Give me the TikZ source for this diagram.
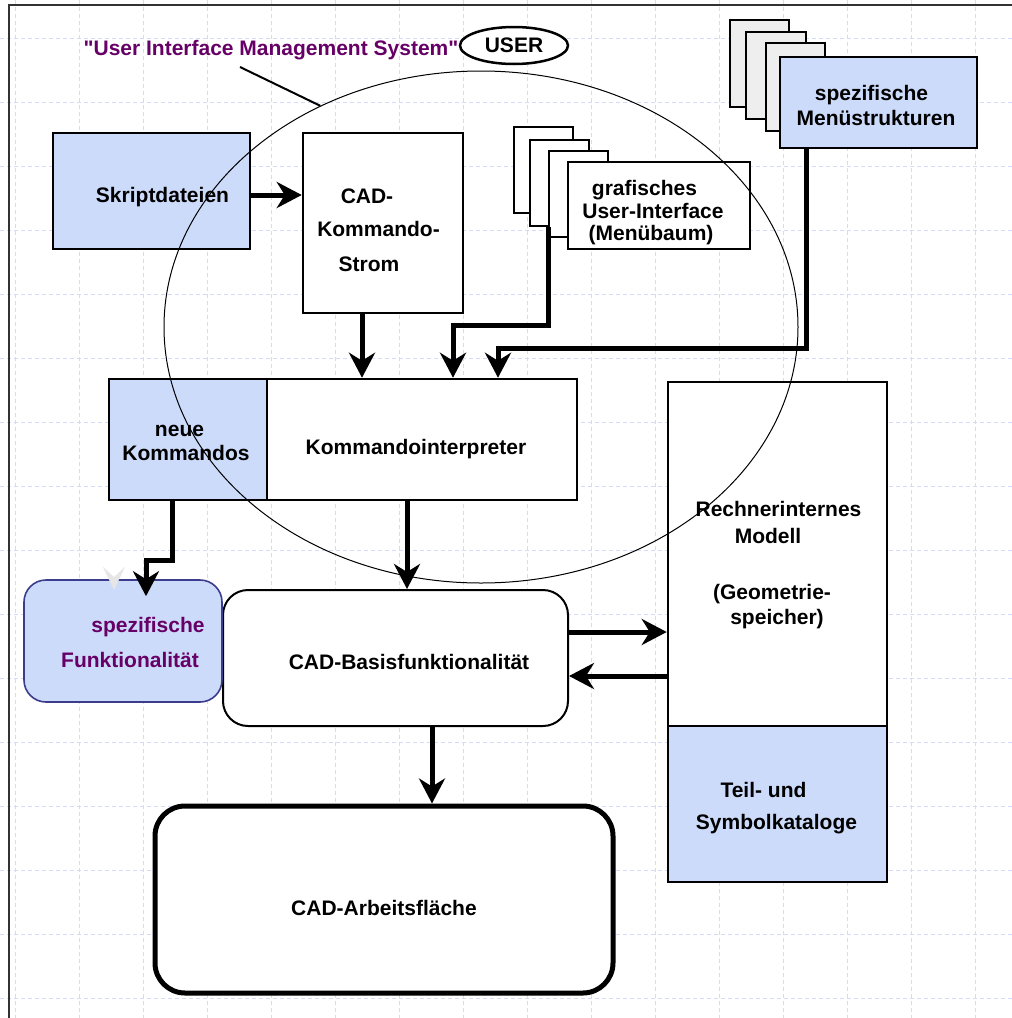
\documentclass[tikz,border=0pt]{standalone}
\usepackage{fontspec}
\setmainfont{Liberation Sans}[Ligatures=TeXOff]
\usetikzlibrary{arrows.meta,shapes.geometric}
\definecolor{boxblue}{RGB}{204,219,250}
\definecolor{uimspurple}{RGB}{102,0,102}
\definecolor{gridblue}{RGB}{210,220,250}
\definecolor{funkborder}{RGB}{60,60,140}
\definecolor{pagegray}{RGB}{238,238,238}
\definecolor{ghostgray}{RGB}{230,230,230}
\definecolor{framegray}{RGB}{50,50,50}
\begin{document}
\begin{tikzpicture}[x=1pt,y=-1pt,
  box/.style={draw=black, line width=2.5pt, inner sep=0pt, rectangle},
  bluebox/.style={box, fill=boxblue},
  whitebox/.style={box, fill=white},
  txt/.style={font=\fontsize{21}{25}\selectfont\bfseries, anchor=base, inner sep=0pt},
  ptxt/.style={txt, text=uimspurple},
  arr/.style={line width=5pt, -{Stealth[length=25pt,width=26pt,inset=8pt]}},
  gridline/.style={gridblue, line width=1pt, dash pattern=on 4pt off 3pt}
]
\useasboundingbox (0,0) rectangle (1012,1018);
\fill[white] (0,0) rectangle (1012,1018);
% background grid
\foreach \gx in {15,79,...,975} \draw[gridline] (\gx,0) -- (\gx,1018);
\foreach \gy in {38,102,...,998} \draw[gridline] (0,\gy) -- (1012,\gy);
% frame
\draw[framegray, line width=1.5pt] (1012,5) -- (9,5) -- (9,1018);

% page stacks
\node[whitebox, minimum width=59pt, minimum height=86pt] (gp1) at (543.5,170) {};
\node[whitebox, minimum width=59pt, minimum height=86pt] (gp2) at (559.5,183) {};
\node[whitebox, minimum width=59pt, minimum height=86pt] (gp3) at (578.5,194) {};
\node[whitebox, minimum width=182pt, minimum height=87pt] (gui) at (659,205.5) {};

\node[box, fill=pagegray, minimum width=59pt, minimum height=87pt] (mp1) at (759.5,63.5) {};
\node[box, fill=pagegray, minimum width=60pt, minimum height=87pt] (mp2) at (776,75.5) {};
\node[box, fill=pagegray, minimum width=59pt, minimum height=88pt] (mp3) at (795.5,87) {};
\node[bluebox, minimum width=197pt, minimum height=91pt] (menu) at (878.5,102.5) {};

% boxes
\node[bluebox, minimum width=197pt, minimum height=116pt] (skript) at (151.5,191) {};
\node[whitebox, minimum width=160pt, minimum height=180pt] (strom) at (383,223) {};
\node[bluebox, minimum width=158pt, minimum height=121pt] (neue) at (188,439.5) {};
\node[whitebox, minimum width=310pt, minimum height=121pt] (interp) at (422,439.5) {};
\node[whitebox, minimum width=219pt, minimum height=344pt] (modell) at (777.5,554) {};
\node[bluebox, minimum width=219pt, minimum height=156pt] (teil) at (777.5,804) {};
\node[whitebox, line width=2pt, rounded corners=25pt, minimum width=345pt, minimum height=136pt] (basis) at (395.5,658) {};
\node[whitebox, line width=5pt, rounded corners=30pt, minimum width=458pt, minimum height=187pt] (arbeit) at (384,899.5) {};
\node[box, draw=funkborder, fill=boxblue, line width=1.6pt, rounded corners=22pt, minimum width=198pt, minimum height=122pt] (funkt) at (123,641) {};

% connectors
\draw[arr] ([yshift=-4pt]skript.east) -- ([yshift=-4pt]skript.east -| strom.west);
\draw[arr] ([xshift=-21pt]strom.south) -- ([xshift=-21pt]strom.south |- interp.north);
\draw[arr] ([xshift=-11.5pt]gp2.south) -- ++(0,98) -| ([xshift=31pt]interp.north);
\draw[arr] ([xshift=-72.5pt]menu.south) -- ++(0,199) -| ([xshift=76pt]interp.north);
\draw[arr] ([xshift=-16pt]neue.south) -- ++(0,59) -| ([xshift=23pt,yshift=-17pt]funkt.north);
\draw[arr] ([xshift=-15pt]interp.south) -- ([xshift=-15pt]interp.south |- basis.north);
\draw[arr] ([yshift=26pt]basis.east) -- ([yshift=26pt]basis.east -| modell.west);
\draw[arr] ([yshift=-18pt]basis.east -| modell.west) -- ([yshift=-18pt]basis.east);
\draw[arr] ([xshift=36.5pt]basis.south) -- ([xshift=36.5pt]basis.south |- arbeit.north);

% faint ghost arrowhead
\fill[ghostgray] (103,567) -- (114,590) -- (125,567) -- (114,577) -- cycle;

% texts
\node[txt] (skript-t) at (162.5,202) {Skriptdateien};
\node[txt] (strom-t1) at (367,203) {CAD-};
\node[txt] (strom-t2) at (378.5,236.5) {Kommando-};
\node[txt] (strom-t3) at (369,271) {Strom};
\node[txt] (gui-t1) at (644.5,195) {grafisches};
\node[txt] (gui-t2) at (653,218.5) {User-Interface};
\node[txt] (gui-t3) at (651,240) {(Menübaum)};
\node[txt] (menu-t1) at (871.5,100) {spezifische};
\node[txt] (menu-t2) at (876,125) {Menüstrukturen};
\node[txt] (neue-t1) at (179.5,436) {neue};
\node[txt] (neue-t2) at (186,460) {Kommandos};
\node[txt] (interp-t) at (416,454) {Kommandointerpreter};
\node[txt] (modell-t1) at (778.5,516) {Rechnerinternes};
\node[txt] (modell-t2) at (768,543) {Modell};
\node[txt] (modell-t3) at (772,599) {(Geometrie-};
\node[txt] (modell-t4) at (777,624) {speicher)};
\node[txt] (teil-t1) at (763.5,797) {Teil- und};
\node[txt] (teil-t2) at (776.5,829) {Symbolkataloge};
\node[txt] (basis-t) at (409,669) {CAD-Basisfunktionalität};
\node[txt] (arbeit-t) at (384,915) {CAD-Arbeitsfläche};
\node[ptxt] (funkt-t1) at (148,632) {spezifische};
\node[ptxt] (funkt-t2) at (130,667) {Funktionalität};

% UIMS ellipse, title and USER
\node[draw=black, line width=1pt, ellipse, minimum width=634pt, minimum height=512pt, inner sep=0pt] (uims) at (481,327) {};
\node[ptxt] (title) at (271,55) {"User Interface Management System"};
\coordinate (ttlfoot) at (240,67);
\draw[line width=2pt] (ttlfoot) -- (uims.126.5);
\node[draw=black, fill=white, line width=2.5pt, ellipse, minimum width=108pt, minimum height=37pt, inner sep=0pt, font=\fontsize{21}{25}\selectfont\bfseries] (user) at (514,45.5) {USER};
\end{tikzpicture}
\end{document}
